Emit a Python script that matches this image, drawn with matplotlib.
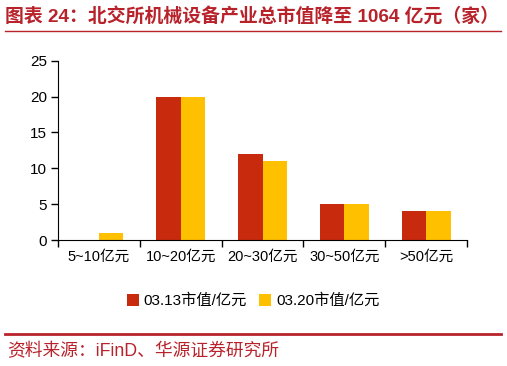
import matplotlib
matplotlib.use("Agg")
import matplotlib.pyplot as plt
import numpy as np

plt.rcParams['font.family'] = ['Liberation Sans', 'Noto Sans CJK SC', 'DejaVu Sans']

categories = ['5~10亿元', '10~20亿元', '20~30亿元', '30~50亿元', '>50亿元']
mar13 = [0, 20, 12, 5, 4]
mar20 = [1, 20, 11, 5, 4]
series_names = ['03.13市值/亿元', '03.20市值/亿元']

red = '#C82A0E'
yellow = '#FFC000'
title_red = '#B8232B'

fig = plt.figure(figsize=(5.07, 3.66), dpi=100)
ax = fig.add_axes([58/507, 1-240/366, 409/507, 179.3/366])

x = np.arange(len(categories))
w = 0.3
ax.bar(x - w/2, mar13, w, color=red, label=series_names[0])
ax.bar(x + w/2, mar20, w, color=yellow, label=series_names[1])

ax.set_xlim(-0.5, len(categories) - 0.5)
ax.set_ylim(0, 25)
ax.set_yticks([0, 5, 10, 15, 20, 25])
ax.set_xticks(np.arange(len(categories) + 1) - 0.5)
ax.set_xticklabels([])
ax.set_xticks(x, minor=True)
ax.set_xticklabels(categories, minor=True)
ax.tick_params(axis='x', which='minor', length=0, pad=7, labelsize=10.5)
ax.tick_params(axis='x', which='major', length=5, width=1)
ax.tick_params(axis='y', length=5, width=1, labelsize=11, pad=3)
ax.spines['top'].set_visible(False)
ax.spines['right'].set_visible(False)

ax.legend(loc='center', bbox_to_anchor=(0.477, -0.34), ncol=2, frameon=False,
          fontsize=11, handlelength=0.8, handleheight=0.9, handletextpad=0.3,
          columnspacing=0.8)

fig.text(5/507, 1-16/366, '图表 24：北交所机械设备产业总市值降至 1064 亿元（家）',
         fontsize=13.6, fontweight='bold', color=title_red, va='center', ha='left')
fig.add_artist(plt.Line2D([5/507, 501/507], [1-31/366, 1-31/366], color=title_red, lw=1.0))
fig.add_artist(plt.Line2D([5/507, 501/507], [1-334/366, 1-334/366], color=title_red, lw=2.0))
fig.text(7/507, 1-352/366, '资料来源：iFinD、华源证券研究所',
         fontsize=12.8, color=title_red, va='center', ha='left')

fig.savefig('out.png', dpi=100)
